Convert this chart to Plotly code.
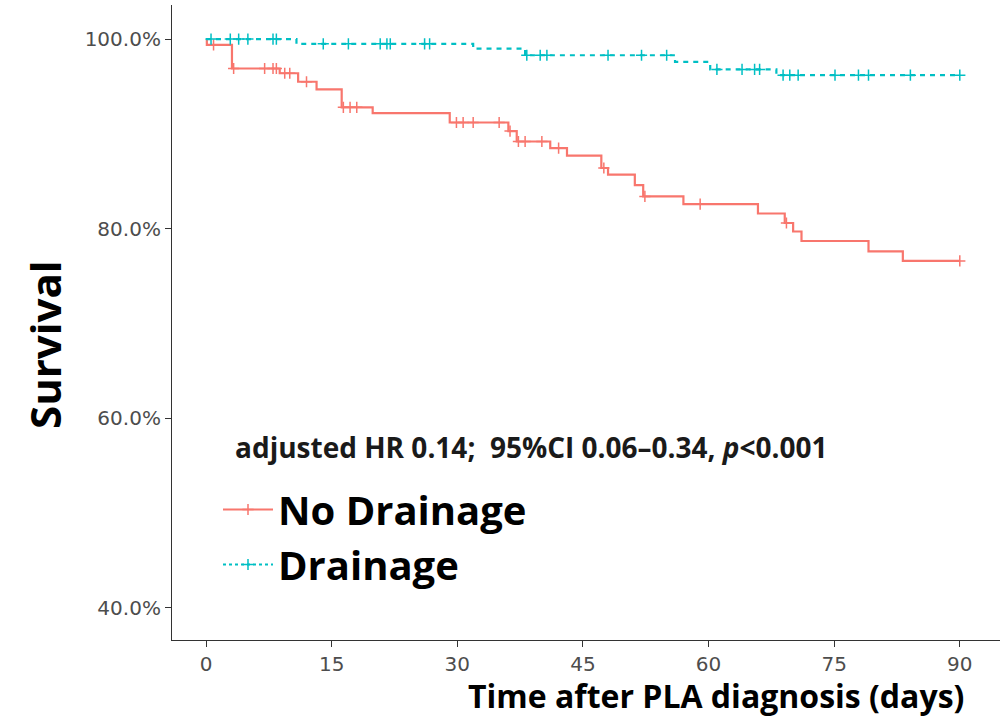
import plotly.graph_objects as go

# ---- data ----
nd_times = [0, 0.1, 3.1, 8.8, 11.0, 13.2, 16.2, 19.9, 29.1, 36.1, 37.1, 41.1, 43.1,
            47.2, 48.0, 51.2, 52.2, 57.0, 65.9, 69.1, 70.1, 71.1, 79.1, 83.2]
nd_surv = [100, 99.4, 96.9, 96.4, 95.5, 94.7, 92.8, 92.2, 91.2, 90.3, 89.2, 88.5, 87.7,
           86.4, 85.7, 84.6, 83.4, 82.6, 81.6, 80.6, 79.7, 78.7, 77.6, 76.6]
nd_censor = [0.9, 3.3, 7.0, 8.0, 8.4, 9.4, 10.0, 12.0, 16.4, 17.2, 18.0, 29.9, 30.7,
             31.9, 35.0, 36.3, 37.3, 38.1, 40.1, 42.1, 47.5, 52.4, 59.0, 69.3, 90.0]

d_times = [0, 10.8, 31.9, 38.1, 56.0, 60.2, 68.1]
d_surv = [100, 99.5, 99.0, 98.3, 97.6, 96.8, 96.2]
d_censor = [0.6, 2.9, 3.9, 5.0, 8.0, 8.4, 14.0, 17.0, 20.8, 21.6, 22.0, 26.1, 26.7,
            38.3, 39.9, 40.7, 48.0, 52.0, 55.0, 61.0, 64.0, 65.5, 66.1, 68.9, 69.7,
            70.7, 75.1, 77.9, 79.1, 84.1, 90.0]

end_time = 90
x_ticks = [0, 15, 30, 45, 60, 75, 90]
y_ticks = [40, 60, 80, 100]
y_tick_labels = ["40.0%", "60.0%", "80.0%", "100.0%"]

RED = "#F8766D"
TEAL = "#00BFC4"
TITLE_FONT = "Open Sans"


def step_at(times, surv, t):
    v = surv[0]
    for ti, si in zip(times, surv):
        if ti <= t:
            v = si
    return v


fig = go.Figure()

for name, times, surv, cens, col, dash in [
    ("No Drainage", nd_times, nd_surv, nd_censor, RED, "solid"),
    ("Drainage", d_times, d_surv, d_censor, TEAL, "5px,5px"),
]:
    fig.add_trace(go.Scatter(
        x=list(times) + [end_time], y=list(surv) + [surv[-1]],
        mode="lines", line=dict(color=col, width=2.2, dash=dash, shape="hv"),
        name=name, legendgroup=name, showlegend=False,
    ))
    fig.add_trace(go.Scatter(
        x=cens, y=[step_at(times, surv, t) for t in cens],
        mode="markers",
        marker=dict(symbol="cross-thin", size=8, line=dict(color=col, width=1.5), color=col),
        legendgroup=name, showlegend=False, hoverinfo="skip",
    ))
    # legend key: line with censor cross
    fig.add_trace(go.Scatter(
        x=[None], y=[None], mode="lines+markers", name=name, legendgroup=name,
        line=dict(color=col, width=2, dash="3px,3px" if dash != "solid" else "solid"),
        marker=dict(symbol="cross-thin", size=8, line=dict(color=col, width=1.5), color=col),
        showlegend=True,
    ))

fig.update_layout(
    width=1007, height=719,
    margin=dict(l=172, r=7, t=5, b=79),
    plot_bgcolor="white", paper_bgcolor="white",
    showlegend=True,
    legend=dict(
        x=(218 - 172) / 828, y=(640 - 477) / 635, xanchor="left", yanchor="top",
        font=dict(family=TITLE_FONT, size=40, color="black", weight="bold"),
        bgcolor="rgba(0,0,0,0)", itemwidth=50, tracegroupgap=0,
    ),
    xaxis=dict(
        range=[-4.06, 94.8], tickvals=x_ticks, ticks="outside", ticklen=6,
        tickcolor="#333333", showline=True, linecolor="#333333", linewidth=1.2,
        showgrid=False, zeroline=False,
        tickfont=dict(family="DejaVu Sans", size=20, color="#4D4D4D"),
    ),
    yaxis=dict(
        range=[36.6, 103.6], tickvals=y_ticks, ticktext=y_tick_labels,
        ticks="outside", ticklen=6, tickcolor="#333333", showline=True,
        linecolor="#333333", linewidth=1.2, showgrid=False, zeroline=False,
        tickfont=dict(family="DejaVu Sans", size=20, color="#4D4D4D"),
    ),
    annotations=[
        dict(text="<b>Time after PLA diagnosis (days)</b>", xref="paper", yref="paper",
             x=(966 - 172) / 828, y=-(695 - 640) / 635, xanchor="right", yanchor="middle",
             showarrow=False, font=dict(family=TITLE_FONT, size=32, color="black")),
        dict(text="<b>Survival</b>", xref="paper", yref="paper",
             x=-(172 - 45) / 828, y=(640 - 345) / 635, xanchor="center", yanchor="middle",
             textangle=-90, showarrow=False, font=dict(family=TITLE_FONT, size=42, color="black")),
        dict(text="<b>adjusted HR 0.14;  95%CI 0.06–0.34, <i>p</i><0.001</b>",
             xref="paper", yref="paper", x=(233 - 172) / 828, y=(640 - 447) / 635,
             xanchor="left", yanchor="middle", showarrow=False,
             font=dict(family=TITLE_FONT, size=28, color="#1a1a1a")),
    ],
)

fig.write_html("out.html", config={"displayModeBar": False},
               post_script="document.body.style.margin='0px';")
